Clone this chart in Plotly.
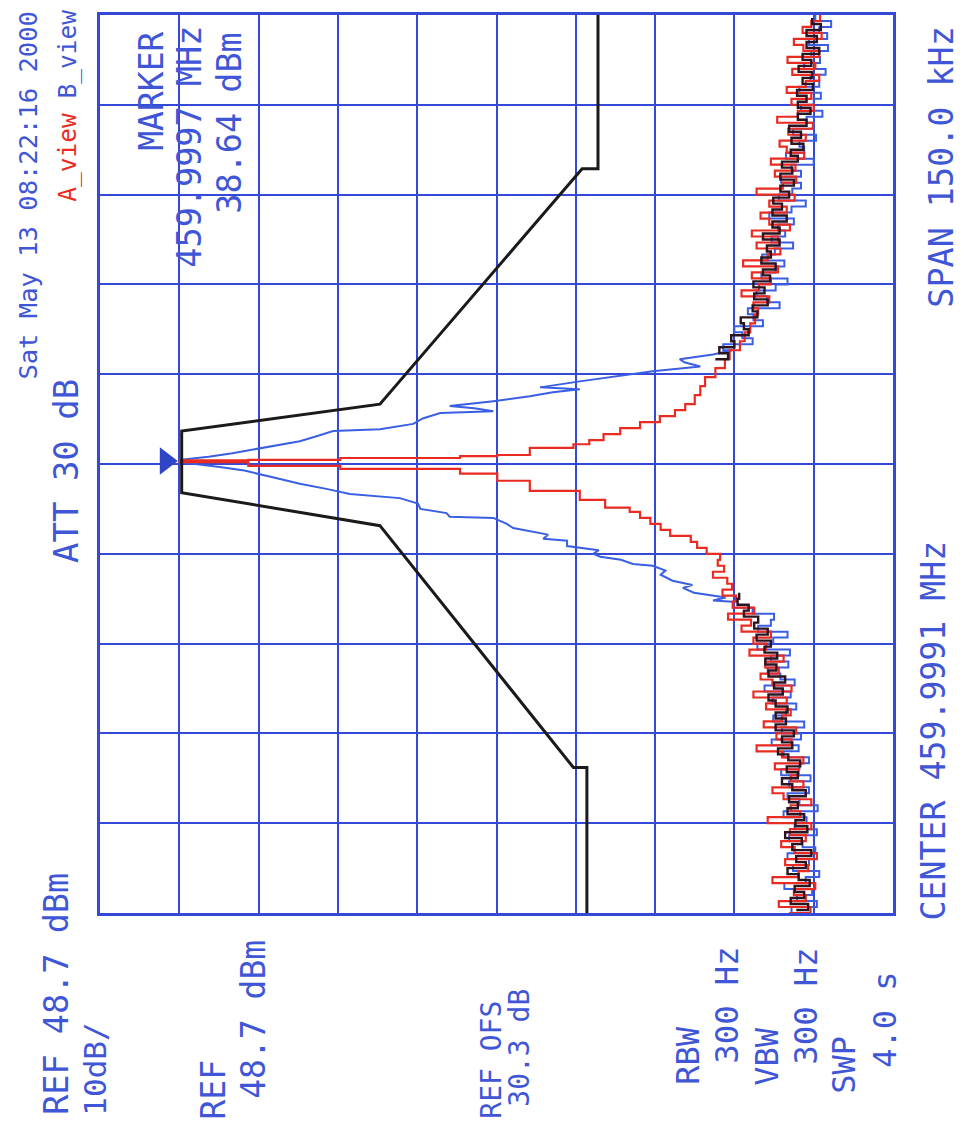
import plotly.graph_objects as go

# ---------------- data ----------------
# frequency offset from centre (kHz), level (dBm)
RED_TRACE = [
    (-75, -38.2), (-74, -40.9), (-73, -36.9), (-72, -40.3), (-71, -38.8), (-70, -41.5),
    (-69, -36.1), (-68, -39.4), (-67, -40.6), (-66, -37.7), (-65, -41.7), (-64, -38.9),
    (-63, -37.2), (-62, -40.3), (-61, -38.3), (-60, -41.0), (-59, -35.5), (-58, -39.6),
    (-57, -38.4), (-56, -41.0), (-55, -37.5), (-54, -36.1), (-53, -40.0), (-52, -38.4),
    (-51, -39.4), (-50, -36.4), (-49, -40.0), (-48, -37.3), (-47, -34.1), (-46, -38.5),
    (-45, -36.6), (-44, -39.1), (-43, -35.0), (-42, -37.3), (-41, -38.4), (-40, -35.3),
    (-39, -37.9), (-38, -33.7), (-37, -38.5), (-36, -36.1), (-35, -34.6), (-34, -36.9),
    (-33, -35.2), (-32, -37.5), (-31, -33.2), (-30, -35.3), (-29, -33.7), (-28, -35.9),
    (-27, -32.2), (-26, -33.4), (-25, -30.5), (-24, -33.8), (-23, -31.1),
    (-22.0, -31.5), (-21.0, -29.8), (-20.0, -31.0), (-19.0, -30.4), (-18.0, -28.6),
    (-17.0, -30.0), (-16.0, -29.2), (-15.0, -29.5), (-14.0, -27.8), (-13.0, -26.6),
    (-12.0, -25.8), (-11.0, -23.2), (-10.0, -22.0), (-9.0, -20.7), (-8.0, -19.4),
    (-7.3, -18.1), (-6.0, -15.0), (-4.5, -11.8), (-2.8, -5.5), (-1.6, -1.4),
    (-0.8, 3.3), (-0.3, 18.4), (0.3, 30.0), (0.6, 38.64), (0.7, 30.0), (1.0, 18.4),
    (1.3, 3.3), (1.5, -1.4), (2.7, -5.5), (3.3, -11.0), (4.0, -13.0), (5.0, -14.8),
    (6.0, -16.9), (7.0, -19.4), (8.0, -21.9), (9.0, -23.8), (10.0, -25.1), (11.5, -26.3),
    (13.0, -27.0), (14.5, -27.6), (16.0, -28.9), (17.5, -30.1), (19.0, -30.7),
    (20.5, -32.0), (22.0, -32.6), (23.5, -33.3), (25.0, -33.9), (26.0, -34.3),
    (27, -33.7), (28, -35.7), (29, -32.2), (30, -34.4), (31, -35.9), (32, -33.5),
    (33, -36.8), (34, -32.4), (35, -35.5), (36, -37.1), (37, -34.1), (38, -36.8),
    (39, -33.5), (40, -38.3), (41, -35.7), (42, -34.6), (43, -37.9), (44, -35.7),
    (45, -38.9), (46, -34.1), (47, -37.4), (48, -39.1), (49, -36.4), (50, -39.0),
    (51, -35.9), (52, -40.1), (53, -37.9), (54, -37.0), (55, -40.3), (56, -38.1),
    (57, -41.2), (58, -36.7), (59, -39.3), (60, -41.3), (61, -38.5), (62, -41.0),
    (63, -37.9), (64, -40.3), (65, -42.0), (66, -38.6), (67, -41.5), (68, -38.0),
    (69, -42.0), (70, -40.0), (71, -38.8), (72, -42.3), (73, -39.9), (74, -41.0),
    (75, -42.1),
]

BLUE_LOWER_NOISE = [
    (-75, -40.6), (-74, -38.5), (-73, -41.7), (-72, -39.2), (-71, -41.1), (-70, -37.6),
    (-69, -40.3), (-68, -42.0), (-67, -38.7), (-66, -40.7), (-65, -38.0), (-64, -41.5),
    (-63, -39.9), (-62, -38.2), (-61, -41.7), (-60, -38.9), (-59, -40.4), (-58, -37.5),
    (-57, -41.8), (-56, -39.5), (-55, -38.0), (-54, -40.7), (-53, -38.2), (-52, -40.9),
    (-51, -37.2), (-50, -39.5), (-49, -40.7), (-48, -37.5), (-47, -39.4), (-46, -36.0),
    (-45, -39.7), (-44, -37.3), (-43, -40.1), (-42, -36.2), (-41, -37.8), (-40, -39.1),
    (-39, -36.1), (-38, -38.4), (-37, -35.1), (-36, -38.9), (-35, -37.1), (-34, -35.5),
    (-33, -38.1), (-32, -35.9), (-31, -38.3), (-30, -34.2), (-29, -36.2), (-28, -38.0),
    (-27, -34.3), (-26, -35.9), (-25, -36.3), (-24, -33.6), (-23.0, -31.1),
]

BLUE_SIGNAL = [
    (-22.8, -28.6), (-22.3, -30.2), (-21.5, -26.2), (-20.7, -24.8), (-20.2, -26.0),
    (-19.5, -23.5), (-18.5, -22.0), (-17.8, -22.6), (-17.0, -21.0), (-16.7, -18.5),
    (-16.0, -17.0), (-15.5, -14.4), (-15.0, -13.5), (-14.4, -14.2), (-13.7, -10.2),
    (-12.8, -10.2), (-12.5, -7.2), (-11.8, -7.8), (-11.2, -5.5), (-10.7, -3.4),
    (-10.0, -2.6), (-9.0, -0.9), (-8.8, 4.6), (-8.2, 5.0), (-7.5, 8.3), (-6.6, 8.6),
    (-5.7, 10.9), (-5.0, 17.2), (-4.2, 20.0), (-3.3, 23.5), (-2.5, 26.0), (-1.7, 28.5),
    (-1.1, 30.5), (-0.5, 33.6), (0.3, 38.64), (0.7, 38.64), (1.2, 35.0), (1.8, 32.0),
    (2.8, 27.5), (3.8, 23.5), (4.6, 21.5), (5.5, 19.3), (5.8, 13.4), (6.7, 9.2),
    (7.6, 8.0), (8.5, 5.8), (8.8, -0.9), (9.3, 1.5), (9.7, 4.6), (10.5, -0.9),
    (11.3, -5.5), (12.0, -8.4), (12.5, -11.8), (12.8, -6.8), (13.8, -11.8),
    (14.7, -16.5), (15.5, -21.0), (16.3, -27.0), (17.0, -25.0), (17.5, -24.4),
    (18.3, -28.6),
]

BLUE_UPPER_NOISE = [
    (19, -31.0), (20, -29.9), (21, -33.6), (22, -32.3), (23, -31.3), (24, -34.9),
    (25, -33.7), (26, -33.0), (27, -37.0), (28, -35.4), (29, -34.1), (30, -36.5),
    (31, -38.0), (32, -34.7), (33, -36.5), (34, -37.6), (35, -34.8), (36, -36.4),
    (37, -38.7), (38, -36.0), (39, -37.7), (40, -36.8), (41, -38.8), (42, -35.7),
    (43, -38.5), (44, -40.3), (45, -36.9), (46, -38.6), (47, -39.7), (48, -37.2),
    (49, -39.7), (50, -38.5), (51, -41.3), (52, -37.8), (53, -40.1), (54, -39.5),
    (55, -41.6), (56, -38.7), (57, -41.3), (58, -40.4), (59, -42.4), (60, -39.7),
    (61, -41.3), (62, -42.2), (63, -39.5), (64, -42.0), (65, -40.9), (66, -42.8),
    (67, -40.1), (68, -42.1), (69, -41.0), (70, -43.1), (71, -40.7), (72, -43.0),
    (73, -42.0), (74, -43.5), (75, -41.5),
]

DARK_LOWER = [
    (-74.5, -39.1), (-73.5, -40.6), (-72.5, -38.4), (-71.5, -40.1), (-70.5, -38.9),
    (-69.5, -40.8), (-68.5, -39.4), (-67.5, -38.0), (-66.5, -40.3), (-65.5, -39.1),
    (-64.5, -41.0), (-63.5, -38.6), (-62.5, -39.8), (-61.5, -37.7), (-60.5, -40.5),
    (-59.5, -39.0), (-58.5, -40.1), (-57.5, -38.0), (-56.5, -39.3), (-55.5, -38.2),
    (-54.5, -40.3), (-53.5, -38.6), (-52.5, -37.3), (-51.5, -39.3), (-50.5, -37.9),
    (-49.5, -39.6), (-48.5, -38.1), (-47.5, -36.8), (-46.5, -38.6), (-45.5, -37.3),
    (-44.5, -38.8), (-43.5, -36.5), (-42.5, -37.8), (-41.5, -36.5), (-40.5, -38.0),
    (-39.5, -36.5), (-38.5, -35.6), (-37.5, -37.4), (-36.5, -36.3), (-35.5, -37.7),
    (-34.5, -35.6), (-33.5, -36.6), (-32.5, -35.2), (-31.5, -36.7), (-30.5, -35.1),
    (-29.5, -35.9), (-28.5, -34.1), (-27.5, -35.5), (-26.5, -33.8), (-25.5, -34.3),
    (-24.5, -32.5), (-23.5, -33.1), (-22.5, -31.7), (-21.5, -31.9),
]

DARK_UPPER = [
    (17.5, -28.9), (18.5, -30.5), (19.5, -29.4), (20.5, -31.3), (21.5, -30.9),
    (22.5, -33.1), (23.5, -32.5), (24.5, -32.1), (25.5, -34.2), (26.5, -33.6),
    (27.5, -35.5), (28.5, -33.8), (29.5, -35.1), (30.5, -33.7), (31.5, -35.8),
    (32.5, -34.9), (33.5, -36.5), (34.5, -34.7), (35.5, -35.9), (36.5, -35.4),
    (37.5, -37.0), (38.5, -34.9), (39.5, -37.0), (40.5, -36.1), (41.5, -37.9),
    (42.5, -36.1), (43.5, -37.3), (44.5, -36.2), (45.5, -38.2), (46.5, -37.1),
    (47.5, -38.8), (48.5, -37.1), (49.5, -38.6), (50.5, -37.3), (51.5, -39.3),
    (52.5, -38.4), (53.5, -40.0), (54.5, -38.5), (55.5, -39.7), (56.5, -38.2),
    (57.5, -40.4), (58.5, -39.3), (59.5, -40.9), (60.5, -39.3), (61.5, -40.4),
    (62.5, -39.2), (63.5, -41.2), (64.5, -39.9), (65.5, -41.1), (66.5, -39.4),
    (67.5, -41.0), (68.5, -39.9), (69.5, -42.0), (70.5, -40.4), (71.5, -41.7),
    (72.5, -40.4), (73.5, -42.2), (74.5, -41.1),
]

MASK_FREQ = [75, 49.3, 49.3, 10.0, 5.5, -4.8, -10.3, -50.7, -50.7, -75]
MASK_LEVEL = [-14.1, -14.1, -12.1, 13.4, 38.4, 38.4, 13.4, -11.0, -12.7, -12.7]

MARKER_FREQ = [0.5]
MARKER_LEVEL = [40.4]

REF_LEVEL = 48.7
DB_PER_DIV = 10
SPAN_KHZ = 150.0

# ---------------- styling ----------------
BLUE_TXT = "#3f56d6"
GRID = "#3549d8"
RED = "#ea2b22"
BLUE_TR = "#3a5fe4"
DARK = "#2a1420"
FONT = "DejaVu Sans Mono"

W, H = 964, 1130
L, R, T, B = 100, 71, 13, 217
PW, PH = W - L - R, H - T - B


def split(pairs):
    return [p[1] for p in pairs], [p[0] for p in pairs]


def add_line(pairs, color, width, shape):
    x, y = split(pairs)
    fig.add_trace(go.Scatter(x=x, y=y, mode="lines",
                             line=dict(color=color, width=width, shape=shape)))


fig = go.Figure()

add_line(BLUE_LOWER_NOISE, BLUE_TR, 2, "hv")
add_line(BLUE_LOWER_NOISE[-1:] + BLUE_SIGNAL + BLUE_UPPER_NOISE[:1], BLUE_TR, 2, "linear")
add_line(BLUE_UPPER_NOISE, BLUE_TR, 2, "hv")
add_line(RED_TRACE, RED, 2.2, "hv")
add_line(DARK_LOWER, DARK, 2.4, "hv")
add_line(DARK_UPPER, DARK, 2.4, "hv")
fig.add_trace(go.Scatter(x=MASK_LEVEL, y=MASK_FREQ, mode="lines",
                         line=dict(color="#1a1a1a", width=3)))
fig.add_trace(go.Scatter(x=MARKER_LEVEL, y=MARKER_FREQ, mode="markers",
                         marker=dict(symbol="triangle-right", size=24, color="#2f45c8")))

bottom = REF_LEVEL - 10 * DB_PER_DIV
fig.update_xaxes(range=[REF_LEVEL, bottom], tick0=REF_LEVEL, dtick=DB_PER_DIV,
                 showgrid=True, gridcolor=GRID, gridwidth=2, zeroline=False,
                 showticklabels=False, ticks="", showline=True, mirror=True,
                 linecolor=GRID, linewidth=3)
fig.update_yaxes(range=[-SPAN_KHZ / 2, SPAN_KHZ / 2], tick0=-SPAN_KHZ / 2, dtick=SPAN_KHZ / 10,
                 showgrid=True, gridcolor=GRID, gridwidth=2, zeroline=False,
                 showticklabels=False, ticks="", showline=True, mirror=True,
                 linecolor=GRID, linewidth=3)


def ann(text, cx, cy, size, color=BLUE_TXT):
    return dict(text=text, xref="paper", yref="paper",
                x=(cx - L) / PW, y=(T + PH - cy) / PH,
                xanchor="center", yanchor="middle", textangle=-90, showarrow=False,
                font=dict(family=FONT, size=size, color=color))


annotations = [
    ann("Sat May 13 08:22:16 2000", 28, 194, 25.5),
    ann('<span style="color:%s">A_view</span> B_view' % RED, 68, 104, 24.5),
    ann("ATT 30 dB", 66, 470, 34),
    ann("MARKER", 152, 90, 33),
    ann("459.9997 MHz", 190, 145, 33.5),
    ann("38.64 dBm", 230, 121, 33.5),
    ann("SPAN 150.0 kHz", 942, 166, 33.4),
    ann("CENTER 459.9991 MHz", 933, 730, 33.2),
    ann("REF 48.7 dBm", 57, 994, 33.5),
    ann("10dB/", 95, 1070, 31),
    ann("REF", 214, 1090, 33),
    ann("48.7 dBm", 254, 1020, 33),
    ann("REF OFS", 492, 1060, 28),
    ann("30.3 dB", 520, 1048, 28),
    ann("RBW", 688, 1056, 32),
    ann("300 Hz", 727, 1006, 32.5),
    ann("VBW", 767, 1057, 32),
    ann("300 Hz", 806, 1007, 32.5),
    ann("SWP", 844, 1065, 32),
    ann("4.0 s", 885, 1020, 32),
]

fig.update_layout(width=W, height=H, margin=dict(l=L, r=R, t=T, b=B),
                  paper_bgcolor="white", plot_bgcolor="white", showlegend=False,
                  annotations=annotations)

fig.write_html("out.html")
